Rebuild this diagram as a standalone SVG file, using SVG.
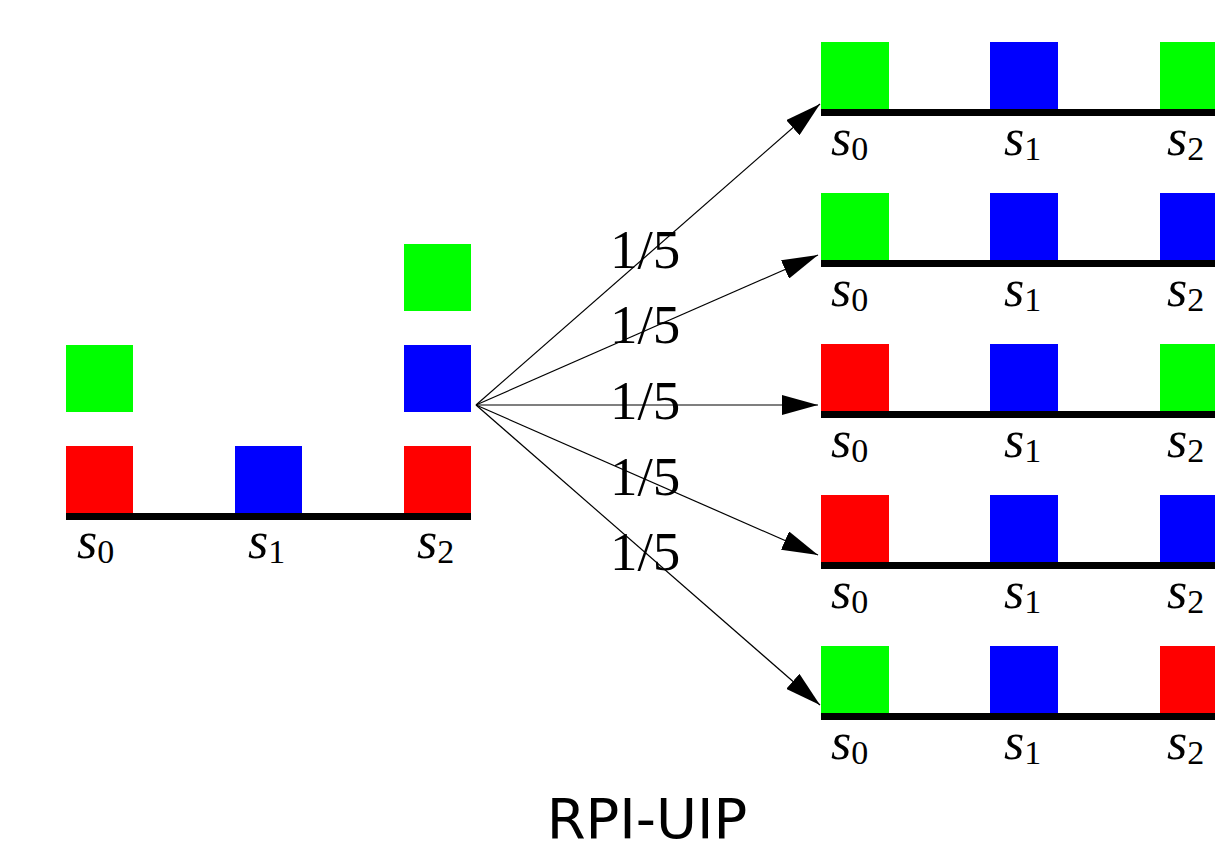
<svg xmlns="http://www.w3.org/2000/svg" width="1215" height="851" viewBox="0 0 1215 851">
<defs>
<style>
.r{fill:#ff0000}.g{fill:#00ff00}.b{fill:#0000ff}
.base{fill:#000}
.s{font-style:italic;font-size:52px;fill:#000}
.sub{font-size:34px;fill:#000}
.p{font-size:55px;fill:#000}
.t{font-family:'DejaVu Sans',sans-serif;font-size:56px;fill:#000}
.c{stroke:#000;stroke-width:1.2;fill:none;marker-end:url(#ah)}
</style>
<marker id="ah" markerUnits="userSpaceOnUse" markerWidth="36" markerHeight="20" refX="36" refY="10" orient="auto" viewBox="0 0 36 20">
<path d="M0,0 L36,10 L0,20 z" fill="#000"/>
</marker>
</defs>
<rect width="1215" height="851" fill="#fff"/>

<g font-family="Liberation Serif, Times New Roman, Times, DejaVu Serif, serif">
<g id="left-state">
<rect class="g" x="66" y="345" width="67" height="67"/>
<rect class="r" x="66" y="446" width="67" height="68"/>
<rect class="b" x="235" y="446" width="67" height="68"/>
<rect class="g" x="404" y="244" width="67" height="67"/>
<rect class="b" x="404" y="345" width="67" height="67"/>
<rect class="r" x="404" y="446" width="67" height="68"/>
<rect class="base" x="66" y="513" width="405" height="7"/>
<text x="77" y="558"><tspan class="s">s</tspan><tspan class="sub" y="563">0</tspan></text>
<text x="248" y="558"><tspan class="s">s</tspan><tspan class="sub" y="563">1</tspan></text>
<text x="417" y="558"><tspan class="s">s</tspan><tspan class="sub" y="563">2</tspan></text>
</g>

<g id="connectors">
<line class="c" x1="476" y1="405" x2="820" y2="104"/>
<line class="c" x1="476" y1="405" x2="818" y2="255"/>
<line class="c" x1="476" y1="405" x2="818" y2="405"/>
<line class="c" x1="476" y1="405" x2="818" y2="555"/>
<line class="c" x1="476" y1="405" x2="820" y2="705"/>
</g>

<g id="probabilities">
<text class="p" x="610" y="268">1/5</text>
<text class="p" x="610" y="343">1/5</text>
<text class="p" x="610" y="419">1/5</text>
<text class="p" x="610" y="495">1/5</text>
<text class="p" x="610" y="570">1/5</text>
</g>

<g id="state-1">
<rect class="g" x="821" y="42" width="68" height="68"/>
<rect class="b" x="990" y="42" width="68" height="68"/>
<rect class="g" x="1160" y="42" width="68" height="68"/>
<rect class="base" x="821" y="109" width="400" height="7"/>
<text x="831" y="155"><tspan class="s">s</tspan><tspan class="sub" y="160">0</tspan></text>
<text x="1004" y="155"><tspan class="s">s</tspan><tspan class="sub" y="160">1</tspan></text>
<text x="1167" y="155"><tspan class="s">s</tspan><tspan class="sub" y="160">2</tspan></text>
</g>
<g id="state-2" transform="translate(0,151)">
<rect class="g" x="821" y="42" width="68" height="68"/>
<rect class="b" x="990" y="42" width="68" height="68"/>
<rect class="b" x="1160" y="42" width="68" height="68"/>
<rect class="base" x="821" y="109" width="400" height="7"/>
<text x="831" y="155"><tspan class="s">s</tspan><tspan class="sub" y="160">0</tspan></text>
<text x="1004" y="155"><tspan class="s">s</tspan><tspan class="sub" y="160">1</tspan></text>
<text x="1167" y="155"><tspan class="s">s</tspan><tspan class="sub" y="160">2</tspan></text>
</g>
<g id="state-3" transform="translate(0,302)">
<rect class="r" x="821" y="42" width="68" height="68"/>
<rect class="b" x="990" y="42" width="68" height="68"/>
<rect class="g" x="1160" y="42" width="68" height="68"/>
<rect class="base" x="821" y="109" width="400" height="7"/>
<text x="831" y="155"><tspan class="s">s</tspan><tspan class="sub" y="160">0</tspan></text>
<text x="1004" y="155"><tspan class="s">s</tspan><tspan class="sub" y="160">1</tspan></text>
<text x="1167" y="155"><tspan class="s">s</tspan><tspan class="sub" y="160">2</tspan></text>
</g>
<g id="state-4" transform="translate(0,453)">
<rect class="r" x="821" y="42" width="68" height="68"/>
<rect class="b" x="990" y="42" width="68" height="68"/>
<rect class="b" x="1160" y="42" width="68" height="68"/>
<rect class="base" x="821" y="109" width="400" height="7"/>
<text x="831" y="155"><tspan class="s">s</tspan><tspan class="sub" y="160">0</tspan></text>
<text x="1004" y="155"><tspan class="s">s</tspan><tspan class="sub" y="160">1</tspan></text>
<text x="1167" y="155"><tspan class="s">s</tspan><tspan class="sub" y="160">2</tspan></text>
</g>
<g id="state-5" transform="translate(0,604)">
<rect class="g" x="821" y="42" width="68" height="68"/>
<rect class="b" x="990" y="42" width="68" height="68"/>
<rect class="r" x="1160" y="42" width="68" height="68"/>
<rect class="base" x="821" y="109" width="400" height="7"/>
<text x="831" y="155"><tspan class="s">s</tspan><tspan class="sub" y="160">0</tspan></text>
<text x="1004" y="155"><tspan class="s">s</tspan><tspan class="sub" y="160">1</tspan></text>
<text x="1167" y="155"><tspan class="s">s</tspan><tspan class="sub" y="160">2</tspan></text>
</g>
</g>

<g id="title">
<text class="t" x="647" y="838" text-anchor="middle">RPI-UIP</text>
</g>
</svg>
